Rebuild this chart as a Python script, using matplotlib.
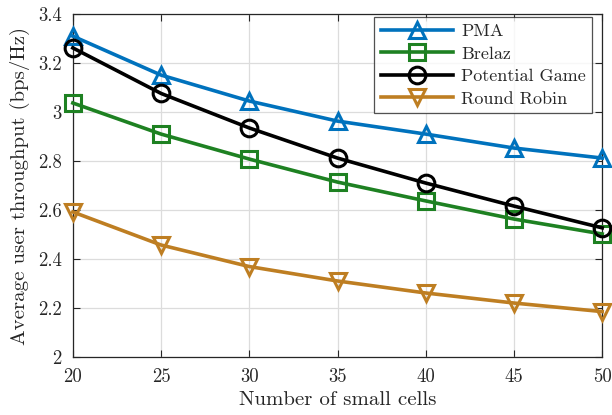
import matplotlib
matplotlib.use("Agg")
import matplotlib.pyplot as plt

plt.rcParams['font.family'] = 'serif'
plt.rcParams['font.serif'] = ['cmr10', 'DejaVu Serif']
plt.rcParams['mathtext.fontset'] = 'cm'
plt.rcParams['axes.unicode_minus'] = False

cells = [20, 25, 30, 35, 40, 45, 50]
pma = [3.31, 3.151, 3.045, 2.963, 2.91, 2.853, 2.812]
brelaz = [3.037, 2.91, 2.808, 2.714, 2.637, 2.563, 2.502]
potential_game = [3.262, 3.076, 2.935, 2.812, 2.71, 2.616, 2.527]
round_robin = [2.592, 2.457, 2.369, 2.31, 2.261, 2.22, 2.185]

xticks = [20, 25, 30, 35, 40, 45, 50]
yticks = [2.0, 2.2, 2.4, 2.6, 2.8, 3.0, 3.2, 3.4]
ytick_labels = ['2', '2.2', '2.4', '2.6', '2.8', '3', '3.2', '3.4']

fig = plt.figure(figsize=(6.12, 4.15), dpi=100)
ax = fig.add_axes([0.119, 0.14, 0.865, 0.826])

series = [
    (pma, 'PMA', '#0072BD', '^'),
    (brelaz, 'Brelaz', '#1E8122', 's'),
    (potential_game, 'Potential Game', '#000000', 'o'),
    (round_robin, 'Round Robin', '#BE7E22', 'v'),
]
for vals, name, col, mk in series:
    ax.plot(cells, vals, color=col, lw=2.6, marker=mk, markersize=12,
            markerfacecolor='none', markeredgecolor=col, markeredgewidth=2.2,
            label=name, clip_on=False, zorder=3)

ax.set_xlim(20, 50)
ax.set_ylim(2, 3.4)
ax.set_xticks(xticks)
ax.set_xticklabels([str(x) for x in xticks])
ax.set_yticks(yticks)
ax.set_yticklabels(ytick_labels)
ax.grid(True, color='#DCDCDC', lw=0.9)
ax.set_axisbelow(True)
ax.tick_params(direction='in', top=True, right=True, length=5, width=0.8,
               labelsize=13.5, colors='#262626', pad=8)
for s in ax.spines.values():
    s.set_color('#262626')
    s.set_linewidth(0.9)

ax.set_xlabel('Number of small cells', fontsize=15, color='#262626', labelpad=4)
ax.set_ylabel('Average user throughput (bps/Hz)', fontsize=15, color='#262626', labelpad=6)

leg = ax.legend(loc='upper right', bbox_to_anchor=(0.981, 0.991),
                prop={'family': 'serif', 'size': 13}, frameon=True, fancybox=False,
                edgecolor='#262626', handlelength=4.0, borderaxespad=0.0,
                labelspacing=0.38, borderpad=0.35, handletextpad=0.45)
leg.get_frame().set_linewidth(0.9)
for t in leg.get_texts():
    t.set_color('#262626')

fig.savefig('out.png', dpi=100)
